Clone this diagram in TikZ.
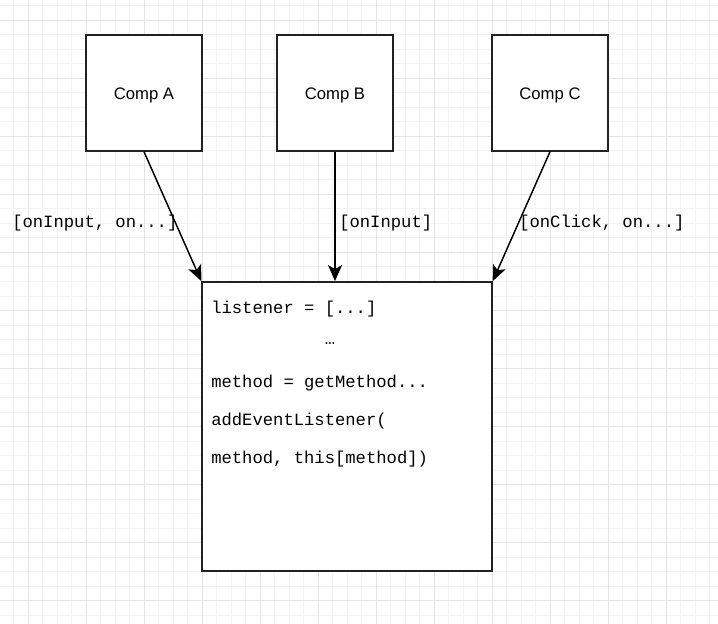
\documentclass[tikz,border=0pt]{standalone}
\usepackage{fontspec}
\setmainfont{Liberation Sans}
\newfontfamily\codefont{Liberation Mono}
\usetikzlibrary{arrows.meta}
\definecolor{gridminor}{HTML}{F3F3F3}
\definecolor{gridmajor}{HTML}{E4E4E4}
\definecolor{boxline}{HTML}{222222}
\newcommand{\complabel}[1]{\raisebox{-5pt}[0pt][0pt]{#1}}
\begin{document}
\begin{tikzpicture}[x=0.75pt,y=-0.75pt,
  compbox/.style={draw=boxline,line width=1.1pt,fill=white,minimum width=87pt,minimum height=87pt,inner sep=0pt,font=\fontsize{12.5}{15}\selectfont},
  mainbox/.style={draw=boxline,line width=1.1pt,fill=white,minimum width=217.5pt,minimum height=217pt,inner sep=0pt},
  codetext/.style={anchor=west,inner sep=0pt,font=\codefont\fontsize{12.9}{15}\selectfont,text=black},
  flow/.style={line width=1.1pt,-{Stealth[length=12pt,width=10.5pt,inset=3pt]}}]
\useasboundingbox (0,0) rectangle (718,624);
\fill[white] (0,0) rectangle (718,624);
% grid
\foreach \i in {0,...,49} {
  \pgfmathsetmacro{\xx}{13.5+14.5*\i}
  \draw[gridminor,line width=0.75pt] (\xx,0) -- (\xx,624);
}
\foreach \i in {0,...,43} {
  \pgfmathsetmacro{\yy}{6+14.5*\i}
  \draw[gridminor,line width=0.75pt] (0,\yy) -- (718,\yy);
}
\foreach \i in {0,...,12} {
  \pgfmathsetmacro{\xx}{28+58*\i}
  \draw[gridmajor,line width=0.75pt] (\xx,0) -- (\xx,624);
}
\foreach \i in {0,...,10} {
  \pgfmathsetmacro{\yy}{20.5+58*\i}
  \draw[gridmajor,line width=0.75pt] (0,\yy) -- (718,\yy);
}
% boxes
\node[compbox] (A) at (144,93) {\complabel{Comp A}};
\node[compbox] (B) at (335,93) {\complabel{Comp B}};
\node[compbox] (C) at (550,93) {\complabel{Comp C}};
\node[mainbox] (M) at (347,426.5) {};
% code lines
\node[codetext] (l1) at (211,309) {listener = [...]};
\node[codetext,anchor=center] (l2) at (330,344) {…};
\node[codetext] (l3) at (211,383) {method = getMethod...};
\node[codetext] (l4) at (211,421) {addEventListener(};
\node[codetext] (l5) at (211,459) {method, this[method])};
% connectors
\draw[flow] (A.south) -- (M.north west);
\draw[flow] (B.south) -- (B.south |- M.north);
\draw[flow] (C.south) -- (M.north east);
% labels
\node[codetext] (la) at (12,223) {[onInput, on...]};
\node[codetext] (lb) at (339,223) {[onInput]};
\node[codetext] (lc) at (519,223) {[onClick, on...]};
\end{tikzpicture}
\end{document}
